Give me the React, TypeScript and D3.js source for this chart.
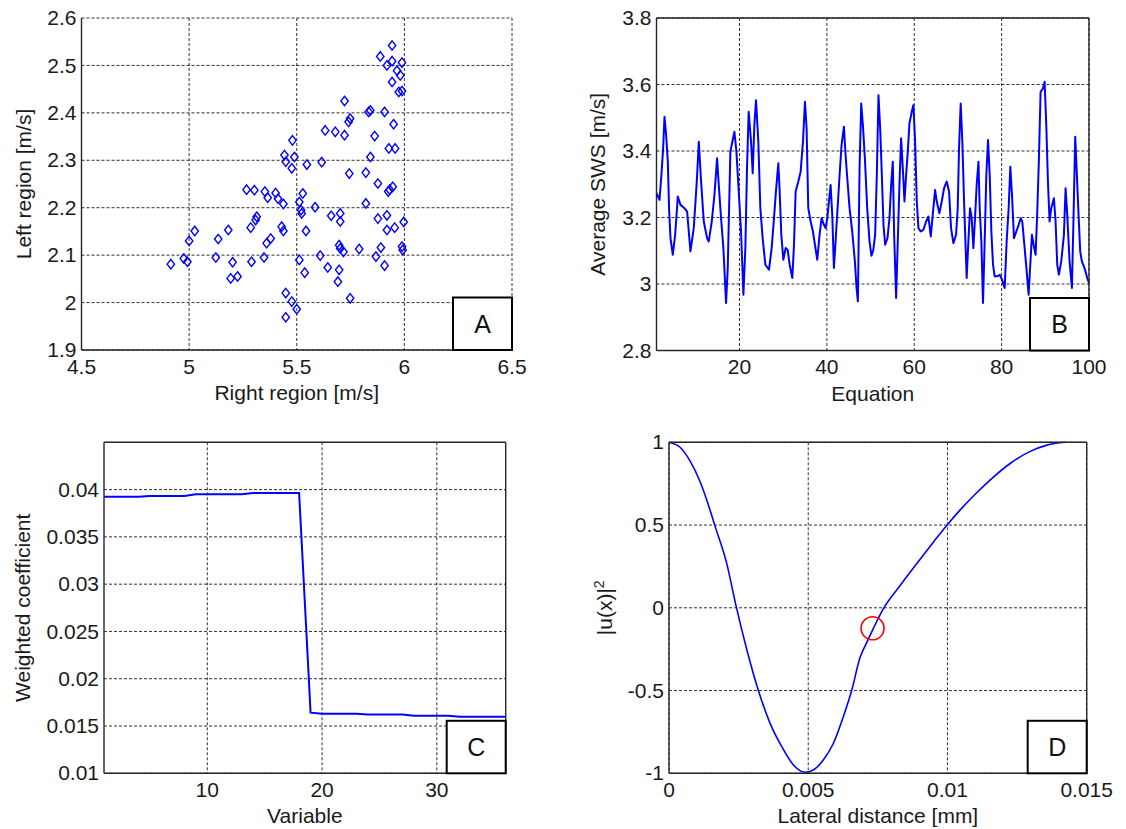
import React from 'react';
import * as d3 from 'd3';

// ---------- Panel A: scatter ----------
const rightRegion = [
  5.943, 5.888, 5.943, 5.919, 5.989, 5.966, 5.981, 5.943, 5.974, 5.989,
  5.722, 5.834, 5.842, 5.908, 5.748, 5.741, 5.95, 5.632, 5.679, 5.722,
  5.862, 5.48, 5.928, 5.957, 5.443, 5.489, 5.842, 5.449, 5.547, 5.616,
  5.477, 5.744, 5.821, 5.877, 5.932, 5.946, 5.925,
  5.267, 5.303, 5.352, 5.365, 5.402, 5.413, 5.438, 5.528, 5.512, 5.52,
  5.585, 5.523, 5.821, 5.66, 5.702, 5.702, 5.877, 5.919, 5.997, 5.919,
  5.955, 5.314, 5.309, 5.286, 5.43, 5.438, 5.379, 5.36, 5.543, 5.026,
  5.0, 5.135, 5.182, 5.697, 5.702, 5.717, 5.79, 5.891, 5.989, 5.992,
  5.868, 5.908, 5.609, 5.512, 5.537, 5.644, 5.697, 5.691, 5.748, 5.348,
  5.29, 5.202, 5.124, 5.193, 5.225, 4.915, 4.975, 4.992, 5.449, 5.477,
  5.5, 5.449,
];
const leftRegion = [
  2.542, 2.519, 2.509, 2.5, 2.506, 2.489, 2.479, 2.465, 2.444, 2.446,
  2.425, 2.402, 2.405, 2.402, 2.388, 2.381, 2.376, 2.363, 2.36, 2.353,
  2.351, 2.342, 2.325, 2.325, 2.311, 2.307, 2.307, 2.297, 2.291, 2.296,
  2.283, 2.272, 2.274, 2.251, 2.238, 2.244, 2.234,
  2.238, 2.237, 2.234, 2.221, 2.231, 2.219, 2.208, 2.23, 2.212, 2.195,
  2.201, 2.188, 2.209, 2.183, 2.188, 2.171, 2.177, 2.184, 2.17, 2.153,
  2.158, 2.181, 2.174, 2.158, 2.16, 2.151, 2.135, 2.125, 2.151, 2.151,
  2.13, 2.134, 2.153, 2.121, 2.114, 2.107, 2.113, 2.116, 2.118, 2.111,
  2.097, 2.078, 2.099, 2.09, 2.063, 2.074, 2.069, 2.044, 2.009, 2.095,
  2.086, 2.085, 2.095, 2.051, 2.055, 2.081, 2.093, 2.086, 2.02, 2.002,
  1.986, 1.969,
];
const aXTicks = [4.5, 5, 5.5, 6, 6.5];
const aYTicks = [1.9, 2, 2.1, 2.2, 2.3, 2.4, 2.5, 2.6];

// ---------- Panel B: average SWS ----------
const swsEquation = [
  1.0, 1.69, 2.07, 2.52, 2.83, 3.21, 3.59, 3.9, 4.2, 4.73,
  5.27, 5.88, 6.49, 7.4, 8.01, 8.77, 9.53, 10.22, 10.68, 11.21,
  11.82, 12.58, 12.96, 13.65, 14.26, 14.87, 15.25, 15.78, 16.31, 16.92,
  17.31, 17.91, 18.83, 19.29, 19.74, 20.35, 20.89, 21.34, 21.72, 22.1,
  22.64, 23.02, 23.4, 23.78, 24.31, 24.77, 25.3, 25.92, 26.75, 27.36,
  27.9, 28.28, 28.66, 28.89, 29.19, 29.57, 30.03, 30.56, 31.02, 31.48,
  32.09, 32.47, 32.85, 33.46, 33.99, 34.53, 34.98, 35.36, 35.74, 36.28,
  36.81, 37.27, 37.8, 38.33, 38.79, 39.32, 39.71, 40.09, 40.47, 40.85,
  41.23, 41.61, 41.99, 42.45, 42.91, 43.36, 43.9, 44.28, 44.73, 45.19,
  45.8, 46.41, 46.79, 47.1, 47.48, 47.86, 48.24, 48.7, 49.23, 49.76,
  50.2, 50.6, 51.05, 51.43, 51.81, 52.2, 52.58, 52.96, 53.34, 53.87,
  54.33, 54.71, 55.09, 55.4, 55.85, 56.16, 56.61, 56.99, 57.38, 57.76,
  58.14, 58.52, 58.9, 59.43, 59.81, 60.2, 60.58, 60.96, 61.49, 62.1,
  62.71, 63.24, 63.78, 64.23, 64.77, 65.15, 65.76, 66.29, 66.82, 67.43,
  67.97, 68.42, 68.96, 69.57, 69.95, 70.25, 70.63, 71.01, 71.4, 72.0,
  72.39, 72.77, 73.15, 73.53, 73.91, 74.29, 74.7, 74.98, 75.36, 75.74,
  76.12, 76.5, 76.89, 77.27, 77.65, 78.03, 78.41, 79.02, 79.55, 80.09,
  80.7, 81.15, 81.61, 81.99, 82.37, 82.83, 83.36, 83.9, 84.35, 84.73,
  85.27, 85.8, 86.18, 86.56, 86.94, 87.32, 87.78, 88.16, 88.54, 88.92,
  89.46, 89.84, 90.22, 90.6, 90.98, 91.36, 91.97, 92.35, 92.73, 93.11,
  93.65, 94.26, 94.64, 95.02, 95.55, 96.09, 96.47, 96.85, 97.23, 97.61,
  97.99, 98.37, 98.98, 99.59, 100.0,
];
const swsAverage = [
  3.273, 3.253, 3.318, 3.408, 3.503, 3.448, 3.368, 3.218, 3.138, 3.088,
  3.148, 3.263, 3.238, 3.228, 3.218, 3.098, 3.168, 3.308, 3.428, 3.308,
  3.188, 3.138, 3.128, 3.188, 3.268, 3.378, 3.298, 3.198, 3.108, 2.943,
  3.048, 3.398, 3.458, 3.398, 3.298, 3.158, 2.968, 3.108, 3.348, 3.518,
  3.428, 3.333, 3.478, 3.553, 3.428, 3.228, 3.138, 3.058, 3.043, 3.108,
  3.198, 3.268, 3.328, 3.363, 3.278, 3.148, 3.073, 3.108, 3.103, 3.058,
  3.018, 3.118, 3.278, 3.308, 3.338, 3.428, 3.548, 3.468, 3.228, 3.188,
  3.158, 3.118, 3.073, 3.148, 3.198, 3.178, 3.168, 3.198, 3.248, 3.298,
  3.208, 3.048, 3.128, 3.228, 3.328, 3.418, 3.473, 3.388, 3.308, 3.228,
  3.158, 3.068, 2.988, 2.948, 3.348, 3.543, 3.478, 3.378, 3.228, 3.128,
  3.085, 3.1, 3.148, 3.328, 3.568, 3.468, 3.328, 3.178, 3.118, 3.138,
  3.198, 3.298, 3.368, 3.148, 2.958, 3.098, 3.298, 3.438, 3.348, 3.248,
  3.328, 3.398, 3.483, 3.518, 3.538, 3.428, 3.248, 3.168, 3.158, 3.163,
  3.188, 3.203, 3.143, 3.208, 3.283, 3.248, 3.213, 3.248, 3.288, 3.308,
  3.278, 3.168, 3.123, 3.148, 3.228, 3.408, 3.543, 3.428, 3.248, 3.018,
  3.128, 3.228, 3.198, 3.108, 3.198, 3.298, 3.368, 3.228, 3.128, 2.943,
  3.128, 3.328, 3.433, 3.328, 3.158, 3.058, 3.023, 3.023, 3.028, 3.013,
  2.988, 3.128, 3.228, 3.353, 3.268, 3.138, 3.158, 3.178, 3.198, 3.188,
  3.108, 3.028, 2.968, 3.058, 3.148, 3.118, 3.088, 3.218, 3.378, 3.578,
  3.588, 3.608, 3.478, 3.308, 3.188, 3.228, 3.258, 3.188, 3.058, 3.028,
  3.068, 3.148, 3.288, 3.208, 3.068, 2.988, 3.208, 3.443, 3.328, 3.208,
  3.098, 3.068, 3.048, 3.018, 3.003,
];
const bXTicks = [20, 40, 60, 80, 100];
const bYTicks = [2.8, 3, 3.2, 3.4, 3.6, 3.8];

// ---------- Panel C: weighted coefficient ----------
const variables = [
  1, 2, 3, 4, 5, 6, 7, 8, 9, 10, 11, 12, 13, 14, 15, 16, 17, 18,
  19, 20, 21, 22, 23, 24, 25, 26, 27, 28, 29, 30, 31, 32, 33, 34, 35, 36,
];
const weights = [
  0.03923, 0.03923, 0.03923, 0.03923, 0.03933, 0.03933, 0.03933, 0.03933, 0.03951,
  0.03951, 0.03951, 0.03951, 0.03951, 0.03965, 0.03965, 0.03965, 0.03965, 0.03965,
  0.01641, 0.0163, 0.0163, 0.0163, 0.0163, 0.01622, 0.01622, 0.01622, 0.01622,
  0.01608, 0.01608, 0.01608, 0.01608, 0.01597, 0.01597, 0.01597, 0.01597, 0.01597,
];
const cXTicks = [10, 20, 30];
const cYTicks = [0.01, 0.015, 0.02, 0.025, 0.03, 0.035, 0.04];

// ---------- Panel D: |u(x)|^2 ----------
const lateralDistance = [
  0, 0.000395, 0.000754, 0.00111, 0.00135, 0.00165, 0.00207, 0.00241, 0.00279, 0.00321,
  0.00363, 0.00405, 0.00447, 0.00488, 0.00518, 0.00554, 0.0059, 0.00626, 0.00656, 0.00686,
  0.0071, 0.00734, 0.0077, 0.0083, 0.0089, 0.0095, 0.00995, 0.01045, 0.01105, 0.01165,
  0.01225, 0.01297, 0.01357, 0.01422,
];
const uSquared = [
  1, 0.97, 0.888, 0.765, 0.655, 0.495, 0.27, 0.01, -0.25, -0.5,
  -0.698, -0.839, -0.95, -0.994, -0.98, -0.92, -0.82, -0.658, -0.5, -0.3,
  -0.21, -0.124, -0.005, 0.135, 0.268, 0.398, 0.493, 0.59, 0.695, 0.79,
  0.872, 0.945, 0.983, 1.0,
];
const markedPoint = [0.00731, -0.124];
const dXTicks = [0, 0.005, 0.01, 0.015];
const dYTicks = [-1, -0.5, 0, 0.5, 1];

const FONT = '"Liberation Sans", Arial, Helvetica, sans-serif';
const FS = 21;
const BLUE = '#0000ff';

type Frame = { l: number; r: number; t: number; b: number };

function fmt(v: number) {
  return String(+v.toFixed(4));
}

function Panel(props: {
  frame: Frame;
  xDomain: [number, number];
  yDomain: [number, number];
  xTicks: number[];
  yTicks: number[];
  xLabel: string;
  yLabel: React.ReactNode;
  yLabelX: number;
  boxed: boolean;
  letter: string;
  render: (x: d3.ScaleLinear<number, number>, y: d3.ScaleLinear<number, number>) => React.ReactNode;
}) {
  const { frame, xDomain, yDomain, xTicks, yTicks, xLabel, yLabel, yLabelX, boxed, letter, render } = props;
  const x = d3.scaleLinear().domain(xDomain).range([frame.l, frame.r]);
  const y = d3.scaleLinear().domain(yDomain).range([frame.b, frame.t]);
  const axisColor = '#262626';
  const bw = 59;
  const bh = 52.5;
  return (
    <g>
      {xTicks.map((t) => (
        <line key={'gx' + t} x1={x(t)} x2={x(t)} y1={frame.t} y2={frame.b}
          stroke="#1a1a1a" strokeWidth={0.9} strokeDasharray="3,2" />
      ))}
      {yTicks.map((t) => (
        <line key={'gy' + t} x1={frame.l} x2={frame.r} y1={y(t)} y2={y(t)}
          stroke="#1a1a1a" strokeWidth={0.9} strokeDasharray="3,2" />
      ))}
      {render(x, y)}
      <line x1={frame.l} x2={frame.l} y1={frame.t} y2={frame.b} stroke={axisColor} strokeWidth={1.4} />
      <line x1={frame.l} x2={frame.r} y1={frame.b} y2={frame.b} stroke={axisColor} strokeWidth={1.4} />
      {boxed && (
        <>
          <line x1={frame.l} x2={frame.r} y1={frame.t} y2={frame.t} stroke={axisColor} strokeWidth={1.4} />
          <line x1={frame.r} x2={frame.r} y1={frame.t} y2={frame.b} stroke={axisColor} strokeWidth={1.4} />
        </>
      )}
      {xTicks.map((t) => (
        <text key={'tx' + t} x={x(t)} y={frame.b + 23.5} textAnchor="middle"
          fontFamily={FONT} fontSize={FS} fill="#1a1a1a">{fmt(t)}</text>
      ))}
      {yTicks.map((t) => (
        <text key={'ty' + t} x={frame.l - 5} y={y(t)} dy="0.34em" textAnchor="end"
          fontFamily={FONT} fontSize={FS} fill="#1a1a1a">{fmt(t)}</text>
      ))}
      <text x={(frame.l + frame.r) / 2} y={frame.b + 50} textAnchor="middle"
        fontFamily={FONT} fontSize={FS} fill="#1a1a1a">{xLabel}</text>
      <text transform={`translate(${yLabelX},${(frame.t + frame.b) / 2}) rotate(-90)`}
        textAnchor="middle" fontFamily={FONT} fontSize={FS} fill="#1a1a1a">{yLabel}</text>
      <rect x={frame.r - bw} y={frame.b - bh} width={bw} height={bh}
        fill="#ffffff" stroke="#000" strokeWidth={2} />
      <text x={frame.r - bw / 2} y={frame.b - bh / 2} dy="0.36em" textAnchor="middle"
        fontFamily={FONT} fontSize={25} fill="#111">{letter}</text>
    </g>
  );
}

export default function App() {
  const fA: Frame = { l: 81.5, r: 512, t: 18, b: 350 };
  const fB: Frame = { l: 656.5, r: 1089, t: 18, b: 350.5 };
  const fC: Frame = { l: 104, r: 505.7, t: 442.3, b: 773.3 };
  const fD: Frame = { l: 669, r: 1086.7, t: 442.3, b: 773.3 };

  const diamond = 'M0,-4.7 L3.7,0 L0,4.7 L-3.7,0 Z';

  return (
    <svg width={1126} height={829} style={{ position: 'absolute', left: 0, top: 0, background: '#fff' }}>
      <rect x={0} y={0} width={1126} height={829} fill="#fff" />
      <Panel
        frame={fA} xDomain={[4.5, 6.5]} yDomain={[1.9, 2.6]}
        xTicks={aXTicks} yTicks={aYTicks}
        xLabel="Right region [m/s]" yLabel="Left region [m/s]" yLabelX={31}
        boxed={false} letter="A"
        render={(x, y) => (
          <g>
            {rightRegion.map((rv, i) => (
              <path key={i} d={diamond} transform={`translate(${x(rv)},${y(leftRegion[i])})`}
                fill="none" stroke={BLUE} strokeWidth={1.4} />
            ))}
          </g>
        )}
      />
      <Panel
        frame={fB} xDomain={[1, 100]} yDomain={[2.8, 3.8]}
        xTicks={bXTicks} yTicks={bYTicks}
        xLabel="Equation" yLabel="Average SWS [m/s]" yLabelX={605}
        boxed={true} letter="B"
        render={(x, y) => {
          const line = d3.line<number>().x((d, i) => x(swsEquation[i])).y((d) => y(d));
          return <path d={line(swsAverage) || ''} fill="none" stroke={BLUE} strokeWidth={2} strokeLinejoin="round" />;
        }}
      />
      <Panel
        frame={fC} xDomain={[1, 36]} yDomain={[0.01, 0.045]}
        xTicks={cXTicks} yTicks={cYTicks}
        xLabel="Variable" yLabel="Weighted coefficient" yLabelX={30}
        boxed={true} letter="C"
        render={(x, y) => {
          const line = d3.line<number>().x((d, i) => x(variables[i])).y((d) => y(d));
          return <path d={line(weights) || ''} fill="none" stroke={BLUE} strokeWidth={2} />;
        }}
      />
      <Panel
        frame={fD} xDomain={[0, 0.015]} yDomain={[-1, 1]}
        xTicks={dXTicks} yTicks={dYTicks}
        xLabel="Lateral distance [mm]"
        yLabel={<>|u(x)|<tspan dy={-8} fontSize={14}>2</tspan></>}
        yLabelX={612}
        boxed={true} letter="D"
        render={(x, y) => {
          const line = d3.line<number>()
            .x((d, i) => x(lateralDistance[i])).y((d) => y(d))
            .curve(d3.curveMonotoneX);
          return (
            <g>
              <path d={line(uSquared) || ''} fill="none" stroke={BLUE} strokeWidth={1.6} />
              <circle cx={x(markedPoint[0])} cy={y(markedPoint[1])} r={11.5}
                fill="none" stroke="#ff0000" strokeWidth={1.6} />
            </g>
          );
        }}
      />
    </svg>
  );
}
